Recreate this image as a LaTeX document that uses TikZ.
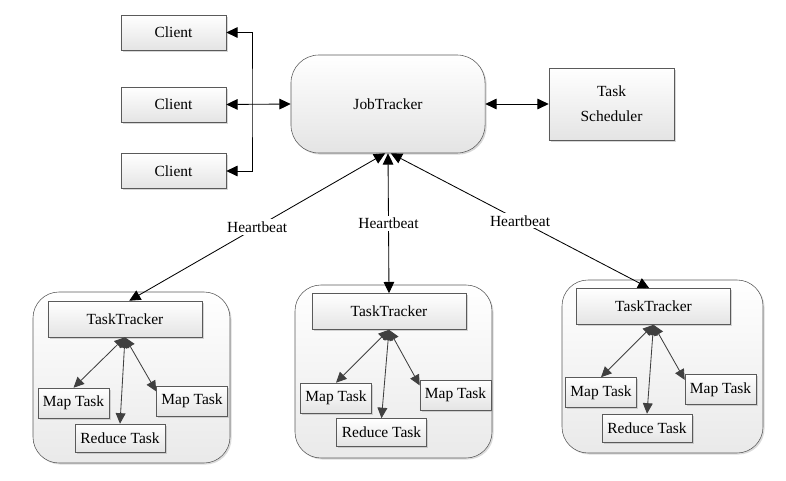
\documentclass[tikz,border=0pt]{standalone}
\usepackage{fontspec}
\setmainfont{Liberation Serif}
\usetikzlibrary{arrows.meta,positioning,calc,shadows}
\definecolor{boxline}{HTML}{5A5A5A}
\definecolor{boxtop}{HTML}{FFFFFF}
\definecolor{boxbottom}{HTML}{E4E4E4}
\definecolor{innerarrow}{HTML}{404040}

\begin{document}
\begin{tikzpicture}[
  x=0.025cm, y=-0.025cm,
  every node/.style={font=\rmfamily\fontsize{11}{13}\selectfont},
  box/.style={draw=boxline, top color=boxtop, bottom color=boxbottom,
    inner sep=0pt, align=center,
    drop shadow={shadow xshift=1.1pt, shadow yshift=-1.1pt, fill=gray!70, opacity=.45}},
  clientbox/.style={box, minimum width=2.625cm, minimum height=0.875cm},
  trackerbox/.style={box, minimum width=3.85cm, minimum height=0.9cm},
  mapbox/.style={box, minimum width=1.775cm, minimum height=0.75cm},
  reducebox/.style={box, minimum width=2.25cm, minimum height=0.7cm},
  groupbox/.style={draw=boxline, rounded corners=0.65cm, top color=white, bottom color=boxbottom!80,
    drop shadow={shadow xshift=1.1pt, shadow yshift=-1.1pt, fill=gray!70, opacity=.4}},
  biarrow/.style={{Triangle[length=8pt,width=7.5pt]}-{Triangle[length=8pt,width=7.5pt]}, black, semithick},
  taskarrow/.style={{Triangle[length=7.5pt,width=7pt]}-{Triangle[length=7.5pt,width=7pt]}, innerarrow, semithick},
  beat/.style={fill=white, inner sep=1.5pt},
]
\useasboundingbox (0,0) rectangle (786,480);

% Clients
\node[clientbox] (client1) at (173.5,32.5) {Client};
\node[clientbox] (client2) at (173.5,104.5) {Client};
\node[clientbox] (client3) at (173.5,171) {Client};

% JobTracker and scheduler
\node[box, rounded corners=0.7cm, minimum width=4.85cm, minimum height=2.45cm] (jobtracker) at (388,104) {JobTracker};
\node[box, minimum width=3.125cm, minimum height=1.8cm] (scheduler) at (611.5,104) {Task\\[5pt]Scheduler};

% Client links
\coordinate (bus) at (252,104);
\draw[biarrow] (client1.east) -| (bus) |- (client3.east);
\draw[biarrow] (client2.east) -- (jobtracker.west);
\draw[biarrow] (jobtracker.east) -- (scheduler.west);

% Worker groups
\draw[groupbox] (33,292) rectangle (230,463);
\draw[groupbox] (295,285) rectangle (492,458);
\draw[groupbox] (562,280) rectangle (763,453);

% Worker 1
\node[trackerbox] (tracker1) at (125,319) {TaskTracker};
\node[mapbox] (mapa1) at (73.5,403) {Map Task};
\node[reducebox] (reduce1) at (120,438) {Reduce Task};
\node[mapbox] (mapb1) at (192,401) {Map Task};

% Worker 2
\node[trackerbox] (tracker2) at (389,311.5) {TaskTracker};
\node[mapbox] (mapa2) at (336,398) {Map Task};
\node[reducebox] (reduce2) at (381.5,432.5) {Reduce Task};
\node[mapbox] (mapb2) at (455.5,395) {Map Task};

% Worker 3
\node[trackerbox] (tracker3) at (653.5,306.5) {TaskTracker};
\node[mapbox] (mapa3) at (601,392.5) {Map Task};
\node[reducebox] (reduce3) at (647,428) {Reduce Task};
\node[mapbox] (mapb3) at (720.5,389.5) {Map Task};

% Task links
\foreach \i in {1,2,3} {
  \draw[taskarrow] (tracker\i.south) -- (mapa\i.north);
  \draw[taskarrow] (tracker\i.south) -- (reduce\i.north);
  \draw[taskarrow] (tracker\i.south) -- (mapb\i.165);
}

% Heartbeats
\draw[biarrow] ([xshift=-2pt]jobtracker.south) -- node[beat, pos=0.5] {Heartbeat} ([xshift=3pt]tracker1.north);
\draw[biarrow] (jobtracker.south) -- node[beat, pos=0.5] {Heartbeat} (tracker2.north);
\draw[biarrow] ([xshift=2pt]jobtracker.south) -- node[beat, pos=0.5] {Heartbeat} ([xshift=-3pt]tracker3.north);

\end{tikzpicture}
\end{document}
